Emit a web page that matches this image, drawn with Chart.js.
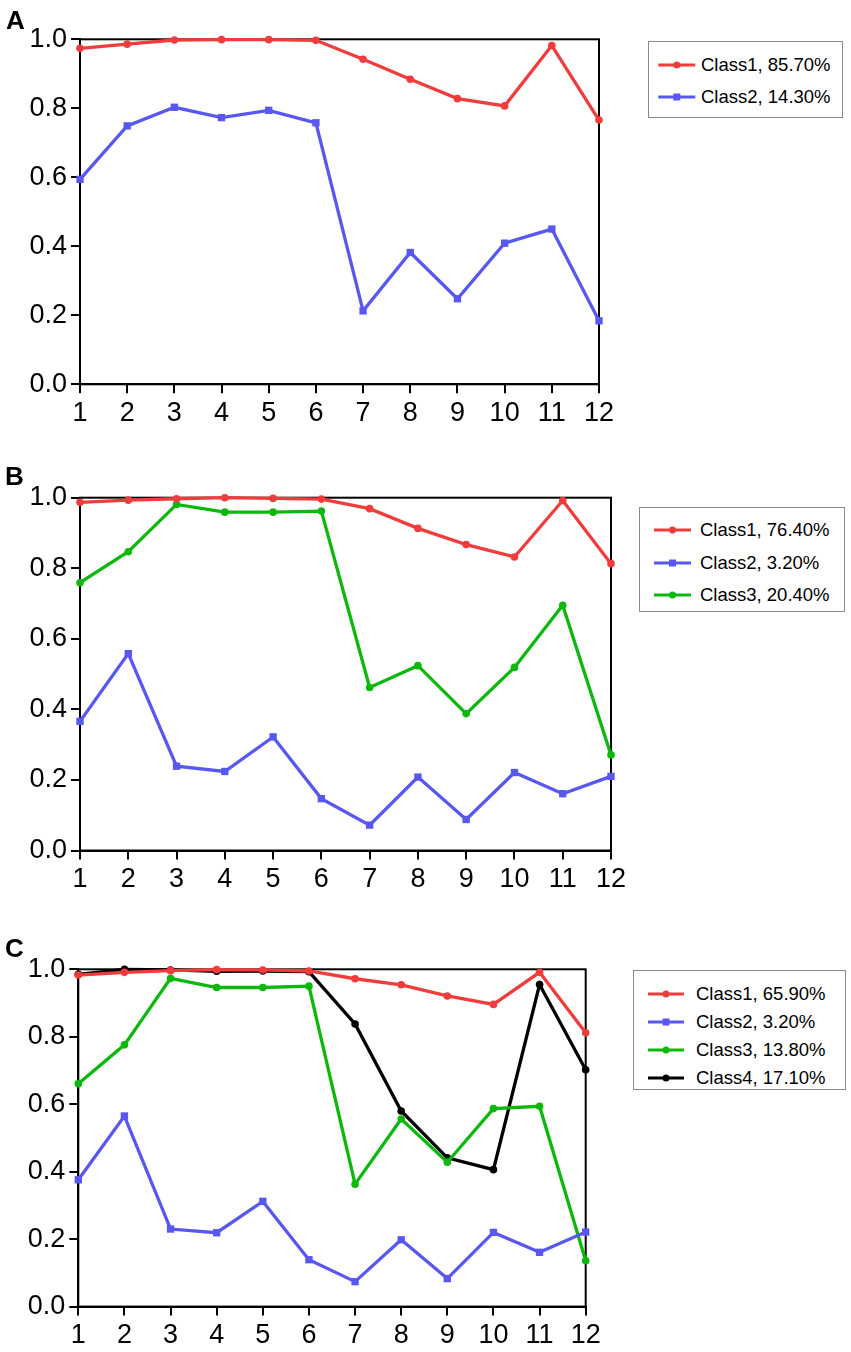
<!DOCTYPE html>
<html>
<head>
<meta charset="utf-8">
<script src="https://cdn.jsdelivr.net/npm/chart.js@4.4.1/dist/chart.umd.min.js"></script>
<style>
  body { margin: 0; background: #fff; font-family: "Liberation Sans", Arial, sans-serif; }
  #page { position: relative; width: 851px; height: 1352px; overflow: hidden; }
  canvas { position: absolute; left: 0; }
  .panel-letter { position: absolute; font-weight: bold; font-size: 26px; line-height: 26px; color: #000; }
  .legend { position: absolute; border: 1px solid #8a8a8a; box-sizing: border-box; background: #fff; }
  .legend .row { position: absolute; height: 22px; line-height: 22px; font-size: 18.5px; color: #000; white-space: nowrap; }
  .legend svg { position: absolute; top: 0; }
</style>
</head>
<body>
<div id="page">
  <canvas id="chartA"></canvas>
  <canvas id="chartB"></canvas>
  <canvas id="chartC"></canvas>
  <div class="panel-letter" style="left:6px;top:6.6px">A</div>
  <div class="panel-letter" style="left:5px;top:462.6px">B</div>
  <div class="panel-letter" style="left:5px;top:934.6px">C</div>
  <div class="legend" id="legendA"></div>
  <div class="legend" id="legendB"></div>
  <div class="legend" id="legendC"></div>
</div>
<script>
// x categories and y ticks
const xLabels = ['1', '2', '3', '4', '5', '6', '7', '8', '9', '10', '11', '12'];
const yTickValues = [0, 0.2, 0.4, 0.6, 0.8, 1.0];

// Panel A
const aNames = ['Class1, 85.70%', 'Class2, 14.30%'];
const aClass1 = [0.974, 0.986, 0.998, 0.999, 0.999, 0.997, 0.942, 0.884, 0.828, 0.807, 0.982, 0.766];
const aClass2 = [0.594, 0.749, 0.803, 0.773, 0.794, 0.758, 0.213, 0.382, 0.248, 0.409, 0.450, 0.184];

// Panel B
const bNames = ['Class1, 76.40%', 'Class2, 3.20%', 'Class3, 20.40%'];
const bClass1 = [0.987, 0.993, 0.997, 1.000, 0.998, 0.996, 0.969, 0.913, 0.867, 0.832, 0.992, 0.813];
const bClass2 = [0.366, 0.558, 0.239, 0.224, 0.322, 0.147, 0.072, 0.208, 0.088, 0.221, 0.161, 0.210];
const bClass3 = [0.759, 0.847, 0.981, 0.959, 0.959, 0.962, 0.462, 0.524, 0.388, 0.519, 0.695, 0.271];

// Panel C
const cNames = ['Class1, 65.90%', 'Class2, 3.20%', 'Class3, 13.80%', 'Class4, 17.10%'];
const cClass1 = [0.983, 0.991, 0.996, 0.999, 0.998, 0.995, 0.972, 0.954, 0.921, 0.896, 0.991, 0.812];
const cClass2 = [0.376, 0.565, 0.230, 0.219, 0.312, 0.139, 0.074, 0.198, 0.083, 0.220, 0.161, 0.221];
const cClass3 = [0.661, 0.776, 0.973, 0.946, 0.946, 0.950, 0.363, 0.556, 0.428, 0.587, 0.594, 0.136];
const cClass4 = [0.985, 1.000, 0.998, 0.994, 0.995, 0.993, 0.838, 0.580, 0.441, 0.406, 0.955, 0.702];

const classColors = ['#f03c3c', '#5858f0', '#0db80d', '#000000'];
const classMarkers = ['circle', 'rect', 'circle', 'circle'];

const TICK_FONT = { family: '"Liberation Sans", Arial, sans-serif', size: 27 };

// draws the box round the plot area, under the lines
const framePlugin = {
    id: 'frame',
    beforeDatasetsDraw(chart) {
        const a = chart.chartArea;
        const ctx = chart.ctx;
        ctx.save();
        ctx.strokeStyle = '#000';
        ctx.lineWidth = 2;
        ctx.strokeRect(a.left, a.top, a.right - a.left, a.bottom - a.top);
        ctx.restore();
    }
};

function makeDataset(i, values) {
    const isRect = classMarkers[i] === 'rect';
    return {
        data: values,
        borderColor: classColors[i],
        backgroundColor: classColors[i],
        borderWidth: 3.3,
        pointStyle: classMarkers[i],
        pointRadius: isRect ? 5.2 : 3.8,
        pointBorderWidth: 0,
        pointBackgroundColor: classColors[i],
        tension: 0,
        clip: false
    };
}

function makePanel(canvasId, geo, series) {
    const canvas = document.getElementById(canvasId);
    canvas.style.top = geo.top + 'px';
    canvas.style.width = geo.width + 'px';
    canvas.style.height = geo.height + 'px';
    canvas.width = geo.width;
    canvas.height = geo.height;

    return new Chart(canvas, {
        type: 'line',
        data: {
            labels: xLabels,
            datasets: series.map((values, i) => makeDataset(i, values))
        },
        options: {
            responsive: false,
            animation: false,
            events: [],
            layout: {
                padding: { top: geo.areaTop, right: geo.width - geo.areaRight, bottom: 0, left: 0 }
            },
            plugins: { legend: { display: false }, tooltip: { enabled: false } },
            scales: {
                x: {
                    type: 'category',
                    offset: false,
                    grid: { drawOnChartArea: false, drawTicks: true, tickLength: 9, color: '#000', lineWidth: 2 },
                    border: { color: '#000', width: 2 },
                    ticks: { color: '#000', font: TICK_FONT, padding: 4, maxRotation: 0, autoSkip: false },
                    afterFit(scale) { scale.height = geo.height - geo.areaBottom; }
                },
                y: {
                    min: 0,
                    max: 1,
                    grid: { drawOnChartArea: false, drawTicks: true, tickLength: 9, color: '#000', lineWidth: 2 },
                    border: { color: '#000', width: 2 },
                    ticks: {
                        color: '#000',
                        font: TICK_FONT,
                        padding: 4,
                        callback: v => Number(v).toFixed(1)
                    },
                    afterBuildTicks(scale) { scale.ticks = yTickValues.map(v => ({ value: v })); },
                    afterFit(scale) { scale.width = geo.areaLeft; }
                }
            }
        },
        plugins: [framePlugin]
    });
}

function makeLegend(id, box, names) {
    const el = document.getElementById(id);
    el.style.left = box.left + 'px';
    el.style.top = box.top + 'px';
    el.style.width = box.width + 'px';
    el.style.height = box.height + 'px';
    names.forEach((name, i) => {
        const row = document.createElement('div');
        row.className = 'row';
        row.style.left = '0px';
        row.style.top = (box.rows[i] - 11) + 'px';
        const len = box.lineEnd - box.lineStart;
        const mid = box.lineStart + len / 2;
        const marker = classMarkers[i] === 'rect'
            ? `<rect x="${mid - 3.5}" y="7.5" width="7" height="7" fill="${classColors[i]}"/>`
            : `<circle cx="${mid}" cy="11" r="3.5" fill="${classColors[i]}"/>`;
        row.innerHTML =
            `<svg width="${box.lineEnd + 4}" height="22">` +
            `<line x1="${box.lineStart}" y1="11" x2="${box.lineEnd}" y2="11" stroke="${classColors[i]}" stroke-width="3"/>` +
            marker + `</svg>` +
            `<span style="position:absolute;left:${box.textLeft}px;top:0">${name}</span>`;
        el.appendChild(row);
    });
}

makePanel('chartA', { top: 0, width: 625, height: 440, areaTop: 39.3, areaBottom: 384.3, areaLeft: 80, areaRight: 599 },
    [aClass1, aClass2]);
makePanel('chartB', { top: 450, width: 640, height: 450, areaTop: 47.7, areaBottom: 400.5, areaLeft: 80, areaRight: 611 },
    [bClass1, bClass2, bClass3]);
makePanel('chartC', { top: 920, width: 612, height: 432, areaTop: 49.3, areaBottom: 386.6, areaLeft: 78.3, areaRight: 585.7 },
    [cClass1, cClass2, cClass3, cClass4]);

makeLegend('legendA', { left: 647.7, top: 41, width: 195.5, height: 77, lineStart: 9.3, lineEnd: 46.3, textLeft: 52.3, rows: [23.3, 54.7] }, aNames);
makeLegend('legendB', { left: 639, top: 506.7, width: 206, height: 105, lineStart: 14, lineEnd: 51, textLeft: 60, rows: [22.6, 55.6, 87.3] }, bNames);
makeLegend('legendC', { left: 632.7, top: 970, width: 213, height: 120, lineStart: 14, lineEnd: 50, textLeft: 62.3, rows: [23.3, 51, 79.3, 106.7] }, cNames);
</script>
</body>
</html>
